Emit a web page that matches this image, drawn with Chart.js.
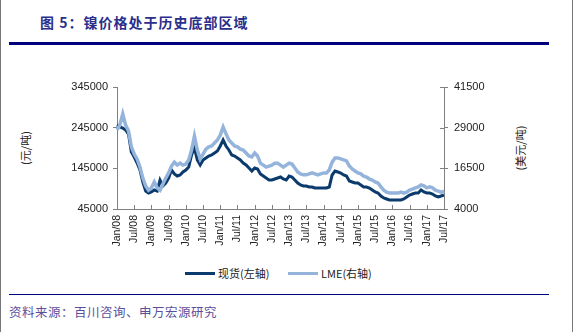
<!DOCTYPE html>
<html lang="zh-CN">
  <head>
    <meta charset="UTF-8" />
    <title>镍价格</title>
    <script src="https://cdn.jsdelivr.net/npm/chart.js"></script>
    <style>
      body {
        margin: 0;
        width: 573px;
        height: 332px;
        position: relative;
        background: #fff;
        overflow: hidden;
        font-family: "Liberation Sans", "Noto Sans CJK SC", sans-serif;
      }
      #grafico {
        position: absolute;
        left: 0;
        top: 0;
      }
      .titulo {
        position: absolute;
        left: 40px;
        top: 12px;
        font-family: "Noto Sans CJK SC", sans-serif;
        font-weight: bold;
        font-size: 14px;
        letter-spacing: 1px;
        color: #2b2f8c;
      }
      .linha {
        position: absolute;
        left: 9px;
        width: 540px;
        background: #00007f;
      }
      .fonte {
        position: absolute;
        left: 9px;
        top: 302px;
        font-family: "Noto Sans CJK SC", sans-serif;
        font-size: 12.5px;
        color: #5a4f9c;
        letter-spacing: 0.5px;
      }
      .eixo {
        position: absolute;
        font-family: "Noto Sans CJK SC", sans-serif;
        font-size: 11px;
        color: #222;
        transform: translate(-50%, -50%) rotate(-90deg);
        white-space: nowrap;
      }
      .borda {
        position: absolute;
        top: 0;
        width: 1px;
        height: 332px;
        background: #777;
      }
      .legenda {
        position: absolute;
        top: 265px;
        font-family: "Noto Sans CJK SC", sans-serif;
        font-size: 11px;
        color: #222;
        display: flex;
        align-items: center;
      }
      .legenda span.traco {
        display: inline-block;
        width: 30px;
        height: 3px;
        margin-right: 3px;
      }
    </style>
  </head>
  <body>
    <div class="borda" style="left: 0"></div>
    <div class="borda" style="left: 572px"></div>
    <div class="titulo">图 5：镍价格处于历史底部区域</div>
    <div class="linha" style="top: 42px; height: 3px"></div>
    <div class="linha" style="top: 294px; height: 1px"></div>
    <div class="fonte">资料来源：百川咨询、申万宏源研究</div>
    <div class="eixo" style="left: 25px; top: 148px">(元/吨)</div>
    <div class="eixo" style="left: 520px; top: 148px">(美元/吨)</div>
    <div class="legenda" style="left: 185px">
      <span class="traco" style="background: #0b3a6c"></span>现货(左轴)
    </div>
    <div class="legenda" style="left: 288px">
      <span class="traco" style="background: #94b4dc"></span>LME(右轴)
    </div>

    <canvas id="grafico" width="573" height="332"></canvas>

    <script>
      // meses de Jan/08 a Jul/17
      const anos = ["08", "09", "10", "11", "12", "13", "14", "15", "16", "17"];
      const meses = ["Jan", "Feb", "Mar", "Apr", "May", "Jun", "Jul", "Aug", "Sep", "Oct", "Nov", "Dec"];
      const rotulos = [];
      anos.forEach((a) => {
        meses.forEach((m) => {
          if (rotulos.length < 115) rotulos.push(m + "/" + a);
        });
      });

      // 现货 (元/吨), eixo esquerdo
      const spot = [
        251600, 246600, 244200, 239300, 229400, 185200, 172900, 158100, 140900, 111400, 89300, 84300,
        86800, 91700, 89300, 116300, 101600, 108900, 121200, 140900, 131100, 126100, 128600, 136000,
        140900, 148300, 177800, 195000, 165500, 153200, 165500, 170400, 175300, 177800, 182700, 187600,
        199900, 214700, 199900, 190100, 177800, 175300, 170400, 165500, 158100, 153200, 145800, 138400,
        145800, 143400, 131100, 126100, 121200, 116300, 116300, 118800, 121200, 123700, 118800, 116300,
        126100, 123700, 116300, 108900, 104000, 101600, 101600, 99100, 99100, 96600, 96600, 96600,
        96600, 96600, 99100, 128600, 138400, 136000, 133500, 128600, 126100, 113900, 111400, 108900,
        108900, 104000, 99100, 99100, 96600, 91700, 86800, 84300, 77000, 72000, 69600, 67100,
        67100, 67100, 67100, 67100, 69600, 74500, 79400, 81900, 84300, 84300, 91700, 86800,
        84300, 84300, 81900, 77000, 74500, 77000, 79400,
      ];

      // LME (美元/吨), eixo direito
      const lme = [
        28300, 29800, 33200, 29800, 28000, 23100, 20900, 19400, 16900, 13500, 11100, 9800,
        10500, 12300, 10500, 9800, 11700, 13500, 15100, 17200, 18400, 17500, 18100, 17500,
        17800, 19100, 22100, 26400, 22100, 19400, 20900, 22400, 23100, 23400, 24300, 25200,
        26700, 29200, 27100, 25200, 24300, 23400, 23100, 22400, 22100, 21200, 20300, 20000,
        21200, 20300, 18100, 17500, 16900, 17200, 17500, 18100, 18100, 17500, 16900, 17500,
        18100, 17800, 16600, 15400, 14800, 14500, 14500, 14800, 15100, 14800, 14500, 14800,
        15100, 15100, 16000, 18400, 19700, 19700, 19400, 19100, 18800, 17200, 16300, 15700,
        15100, 14800, 14100, 13800, 13200, 12900, 12300, 12000, 10800, 9800, 9200, 8900,
        8900, 8900, 8900, 9200, 8900, 9200, 9800, 10100, 10500, 10800, 11400, 11100,
        10500, 10800, 10500, 9800, 9500, 9200, 9500,
      ];

      const fonteTicks = { family: "Liberation Sans", size: 11 };

      // marcas internas nos eixos x e direito
      const marcasInternas = {
        id: "marcasInternas",
        afterDraw(chart) {
          const ctx = chart.ctx;
          const x = chart.scales.x;
          const y1 = chart.scales.y1;
          ctx.save();
          ctx.strokeStyle = "#808080";
          ctx.lineWidth = 1;
          ctx.beginPath();
          rotulos.forEach((r, i) => {
            if (i % 6 !== 0) return;
            const px = Math.round(x.getPixelForValue(i)) + 0.5;
            ctx.moveTo(px, x.top);
            ctx.lineTo(px, x.top - 4);
          });
          y1.ticks.forEach((t) => {
            const py = Math.round(y1.getPixelForValue(t.value)) + 0.5;
            ctx.moveTo(y1.left, py);
            ctx.lineTo(y1.left - 4, py);
          });
          ctx.stroke();
          ctx.restore();
        },
      };

      new Chart(document.getElementById("grafico"), {
        type: "line",
        data: {
          labels: rotulos,
          datasets: [
            {
              label: "LME(右轴)",
              data: lme,
              yAxisID: "y1",
              borderColor: "#94b4dc",
              borderWidth: 3.5,
              pointRadius: 0,
              tension: 0,
              order: 0,
            },
            {
              label: "现货(左轴)",
              data: spot,
              yAxisID: "y",
              borderColor: "#0b3a6c",
              borderWidth: 3,
              pointRadius: 0,
              tension: 0,
              order: 1,
            },
          ],
        },
        options: {
          responsive: false,
          animation: false,
          layout: { padding: { top: 87, bottom: 78, left: 0, right: 0 } },
          plugins: {
            legend: { display: false },
            tooltip: { enabled: false },
          },
          scales: {
            x: {
              type: "category",
              offset: false,
              grid: { drawOnChartArea: false, drawTicks: false },
              border: { color: "#808080" },
              ticks: {
                autoSkip: false,
                maxRotation: 90,
                minRotation: 90,
                padding: 6,
                color: "#222",
                font: { family: "Liberation Sans", size: 10.5 },
                callback: function (v, i) {
                  return i % 6 === 0 ? rotulos[i] : null;
                },
              },
              afterFit: (s) => {
                s.height = 45;
              },
            },
            y: {
              position: "left",
              min: 45000,
              max: 345000,
              grid: { drawOnChartArea: false, tickLength: 4, color: "#808080" },
              border: { color: "#808080" },
              ticks: {
                stepSize: 100000,
                padding: 5,
                color: "#222",
                font: fonteTicks,
                callback: (v) => String(v),
              },
              afterFit: (s) => {
                s.width = 117;
              },
            },
            y1: {
              position: "right",
              min: 4000,
              max: 41500,
              grid: { drawOnChartArea: false, tickLength: 4, color: "#808080" },
              border: { color: "#808080" },
              ticks: {
                stepSize: 12500,
                padding: 6,
                color: "#222",
                font: fonteTicks,
                callback: (v) => String(v),
              },
              afterFit: (s) => {
                s.width = 129;
              },
            },
          },
        },
        plugins: [marcasInternas],
      });
    </script>
  </body>
</html>
